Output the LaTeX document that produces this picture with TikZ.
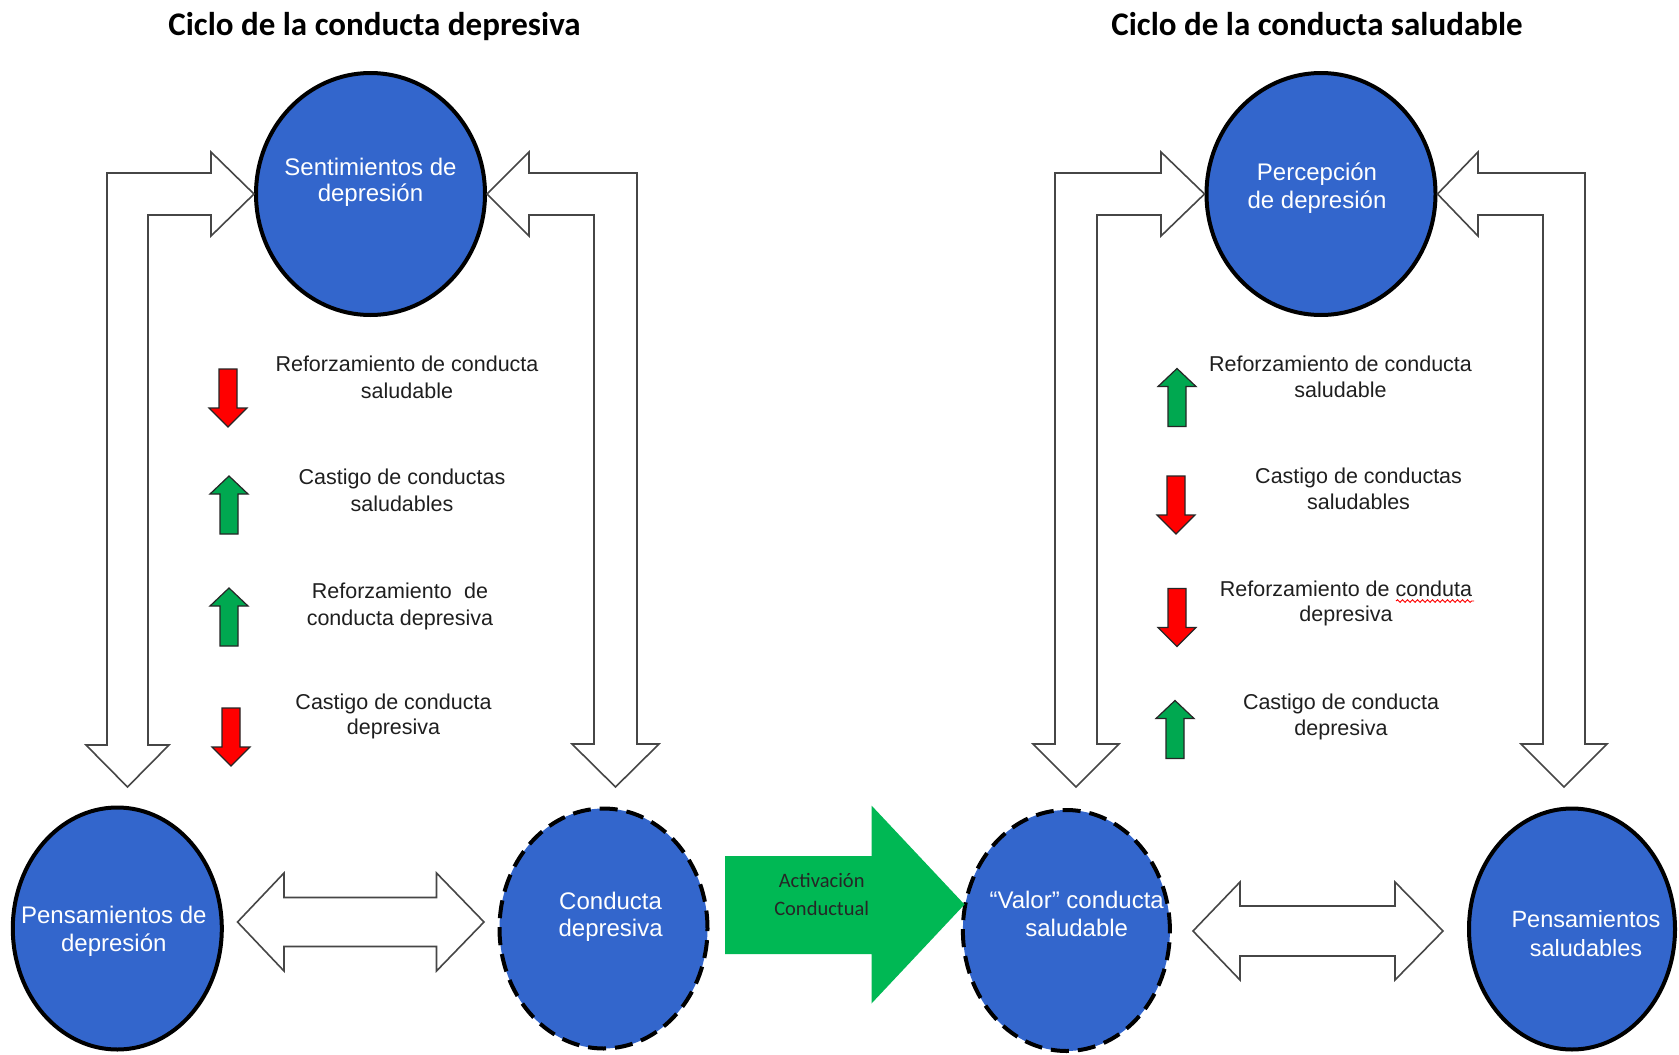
\documentclass[tikz,border=0pt]{standalone}
\usepackage{fontspec}
\setmainfont{Liberation Sans}
\newfontfamily\calib{Carlito}
\usetikzlibrary{shapes.geometric,decorations.pathmorphing}
\definecolor{nodeblue}{RGB}{51,102,204}
\definecolor{smgreen}{RGB}{0,168,80}
\definecolor{bigarrgreen}{RGB}{0,184,84}
\definecolor{hollowline}{RGB}{70,70,70}
\begin{document}
\begin{tikzpicture}[x=1pt,y=-1pt,
  circ/.style={ellipse, fill=nodeblue, draw=black, line width=4pt, inner sep=0pt},
  dashcirc/.style={circ, dash pattern=on 18pt off 9pt},
  intext/.style={text=white, align=center, font=\fontsize{24}{27}\selectfont, inner sep=0pt},
  coltext/.style={text=black!88, align=center, font=\fontsize{21.5}{27}\selectfont, inner sep=0pt},
  titletext/.style={font=\calib\bfseries\fontsize{33}{36}\selectfont, anchor=base, inner sep=0pt},
  hollow/.style={draw=hollowline, fill=white, line width=1.6pt, line join=miter},
  smallarr/.style={draw=black!85, line width=1.2pt, line join=miter},
  downarr/.pic={\draw[smallarr, fill=red] (-9,0) -- (9,0) -- (9,39) -- (19,39) -- (0,58) -- (-19,39) -- (-9,39) -- cycle;},
  uparr/.pic={\draw[smallarr, fill=smgreen] (0,0) -- (19,18) -- (9,18) -- (9,58) -- (-9,58) -- (-9,18) -- (-19,18) -- cycle;}
]
\fill[white] (0,0) rectangle (1679,1055);
\useasboundingbox (0,0) rectangle (1679,1055);

% titles
\node[titletext] (t1) at (374.5,35) {Ciclo de la conducta depresiva};
\node[titletext] (t2) at (1317,35) {Ciclo de la conducta saludable};

% circles
\node[circ, minimum width=229pt, minimum height=242pt] (sent) at (370.5,194) {};
\node[circ, minimum width=229pt, minimum height=242pt] (perc) at (1321,194) {};
\node[circ, minimum width=209pt, minimum height=242pt] (pdep) at (117.3,928.5) {};
\node[dashcirc, minimum width=208pt, minimum height=240pt] (cdep) at (603.5,928.5) {};
\node[dashcirc, minimum width=207pt, minimum height=241pt] (valor) at (1066.4,930.5) {};
\node[circ, minimum width=206pt, minimum height=241pt] (psal) at (1572,929) {};

% circle texts
\node[intext, font=\fontsize{24}{26}\selectfont] (sent-t) at (370.5,182) {Sentimientos de\\depresión};
\node[intext, font=\fontsize{24}{28}\selectfont] (perc-t) at (1317,188) {Percepción\\de depresión};
\node[intext, font=\fontsize{24}{28}\selectfont] (pdep-t) at (113.8,931) {Pensamientos de\\depresión};
\node[intext] (cdep-t) at (610.6,917) {Conducta\\depresiva};
\node[intext, font=\fontsize{24}{28}\selectfont] (valor-t) at (1076.7,914) {“Valor” conducta\\saludable};
\node[intext, font=\fontsize{23.5}{29.5}\selectfont] (psal-t) at (1586,933.4) {Pensamientos\\saludables};

% bent hollow arrows, left cycle
\draw[hollow] (sent.west) -- (211,152) -- (211,173) -- (107,173) -- (107,745) -- (86,745) -- (127.5,787) -- (169,745) -- (148,745) -- (148,215) -- (211,215) -- (211,236) -- cycle;
\draw[hollow] (sent.east) -- (529,152) -- (529,173) -- (637,173) -- (637,744) -- (659,744) -- (615.5,787) -- (572,744) -- (594,744) -- (594,215) -- (529,215) -- (529,236) -- cycle;
% bent hollow arrows, right cycle
\draw[hollow] (perc.west) -- (1161,152) -- (1161,173) -- (1055,173) -- (1055,744) -- (1033,744) -- (1076,787) -- (1119,744) -- (1097,744) -- (1097,215) -- (1161,215) -- (1161,236) -- cycle;
\draw[hollow] (perc.east) -- (1478,152) -- (1478,173) -- (1585,173) -- (1585,744) -- (1607,744) -- (1564,787) -- (1521,744) -- (1543,744) -- (1543,215) -- (1478,215) -- (1478,236) -- cycle;

% horizontal double hollow arrows
\draw[hollow] (237.5,922) -- (284,873) -- (284,897.5) -- (436.5,897.5) -- (436.5,873) -- (484,922) -- (436.5,971) -- (436.5,946.5) -- (284,946.5) -- (284,971) -- cycle;
\draw[hollow] (1193,931) -- (1240,882) -- (1240,906) -- (1395,906) -- (1395,882) -- (1443,931) -- (1395,980) -- (1395,956) -- (1240,956) -- (1240,980) -- cycle;

% green activation arrow
\fill[bigarrgreen] (725,856) -- (871.5,856) -- (871.5,805.5) -- (964.5,904.5) -- (871.5,1003.5) -- (871.5,954) -- (725,954) -- cycle;
\node[font=\calib\fontsize{20.5}{28}\selectfont, align=center, text=black!85, inner sep=0pt] (act) at (821.7,894) {Activación\\Conductual};

% small arrows, left cycle
\pic at (228,369) {downarr};
\pic at (229,476) {uparr};
\pic at (229,588) {uparr};
\pic at (231,708) {downarr};
% small arrows, right cycle
\pic at (1177,368.5) {uparr};
\pic at (1176,476) {downarr};
\pic at (1177,588.5) {downarr};
\pic at (1175,700.5) {uparr};

% column texts, left
\node[coltext] (l1) at (407,377.8) {Reforzamiento de conducta\\saludable};
\node[coltext] (l2) at (402,490) {Castigo de conductas\\saludables};
\node[coltext] (l3) at (400,606) {Reforzamiento\hspace{0.3em} de\\conducta depresiva};
\node[coltext, font=\fontsize{21.5}{25}\selectfont] (l4) at (393.5,716.5) {Castigo de conducta\\depresiva};
% column texts, right
\node[coltext, font=\fontsize{21.5}{25.5}\selectfont] (r1) at (1340.5,377) {Reforzamiento de conducta\\saludable};
\node[coltext, font=\fontsize{21.5}{25.5}\selectfont] (r2) at (1358.6,489) {Castigo de conductas\\saludables};
\node[coltext, font=\fontsize{21.5}{25.5}\selectfont] (r3) at (1346,603.3) {Reforzamiento de conduta\\depresiva};
\node[coltext, font=\fontsize{21.5}{25.5}\selectfont] (r4) at (1341,716.7) {Castigo de conducta\\depresiva};
\draw[red, line width=0.9pt, decorate, decoration={snake, amplitude=1.3pt, segment length=5pt}] (1396,601) -- (1474,601);
\end{tikzpicture}
\end{document}
